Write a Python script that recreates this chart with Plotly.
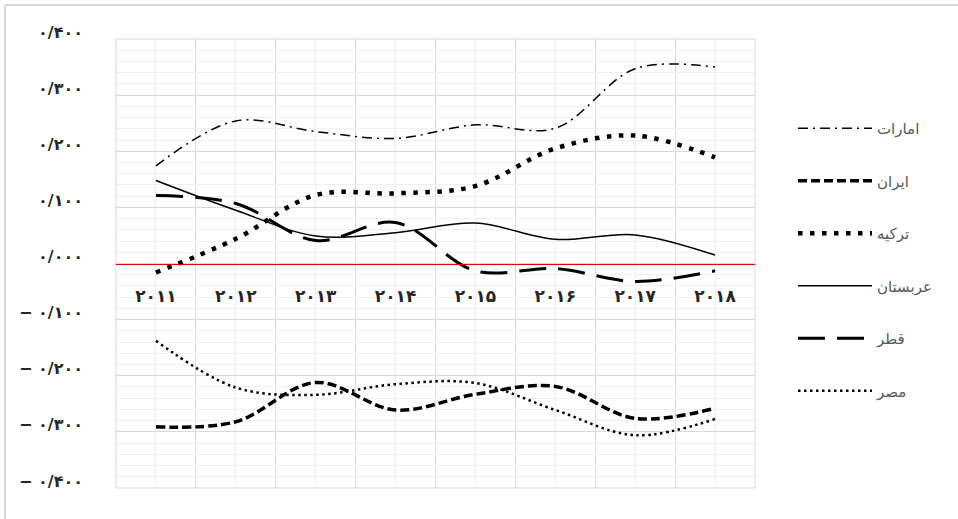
import plotly.graph_objects as go

# ---- data ----
years = ['۲۰۱۱', '۲۰۱۲', '۲۰۱۳', '۲۰۱۴', '۲۰۱۵', '۲۰۱۶', '۲۰۱۷', '۲۰۱۸']
emirates = [0.174, 0.254, 0.235, 0.223, 0.247, 0.241, 0.347, 0.350]
iran = [-0.291, -0.282, -0.212, -0.261, -0.233, -0.219, -0.276, -0.258]
turkey = [-0.016, 0.044, 0.122, 0.125, 0.138, 0.205, 0.228, 0.189]
saudi = [0.148, 0.095, 0.049, 0.055, 0.072, 0.043, 0.051, 0.015]
qatar = [0.121, 0.107, 0.041, 0.073, -0.013, -0.009, -0.032, -0.013]
egypt = [-0.1375, -0.221, -0.234, -0.215, -0.213, -0.261, -0.306, -0.277]

y_tick_values = [0.4, 0.3, 0.2, 0.1, 0.0, -0.1, -0.2, -0.3, -0.4]
y_tick_labels = ['۰/۴۰۰', '۰/۳۰۰', '۰/۲۰۰', '۰/۱۰۰', '۰/۰۰۰',
                 '− ۰/۱۰۰', '− ۰/۲۰۰', '− ۰/۳۰۰', '− ۰/۴۰۰']

series = [
    ('امارات', emirates, dict(width=1.5, dash='10px,5px,2px,5px')),
    ('ایران', iran, dict(width=3.5, dash='9px,4px')),
    ('ترکیه', turkey, dict(width=4.5, dash='4.5px,7.5px')),
    ('عربستان', saudi, dict(width=1.5, dash='solid')),
    ('قطر', qatar, dict(width=3, dash='27px,12px')),
    ('مصر', egypt, dict(width=2.5, dash='2.5px,3.5px')),
]

xpos = list(range(len(years)))

fig = go.Figure()
for i, (name, vals, ln) in enumerate(series):
    fig.add_trace(go.Scatter(
        x=xpos, y=vals, name=name, mode='lines',
        line=dict(color='black', shape='spline', smoothing=1.0, **ln),
        legendgroup=f'g{i}',
    ))

FONT = 'DejaVu Sans'
W, H = 958, 519
L, R, T, B = 116, 203, 39, 31
pw, ph = W - L - R, H - T - B

def px_x(p):
    return (p - L) / pw

def px_y(p):
    return 1 - (p - T) / ph

fig.update_layout(
    width=W, height=H,
    margin=dict(l=L, r=R, t=T, b=B, autoexpand=False),
    paper_bgcolor='white', plot_bgcolor='white',
    font=dict(family=FONT, color='#404040'),
    showlegend=True,
    legend=dict(
        x=px_x(793), y=px_y(112), xanchor='left', yanchor='top',
        font=dict(family=FONT, size=15, color='#595959'),
        itemwidth=74, tracegroupgap=30, bgcolor='rgba(0,0,0,0)',
    ),
    xaxis=dict(
        range=[-0.5, 7.5],
        tickmode='array', tickvals=xpos, ticktext=years,
        showgrid=True, gridcolor='#f0f0f0', gridwidth=1,
        minor=dict(tickmode='linear', tick0=-0.5, dtick=1, showgrid=True,
                   gridcolor='#d9d9d9', gridwidth=1),
        zeroline=False,
        anchor='free', position=0.5,
        showline=True, linecolor='#e00000', linewidth=1,
        ticks='', ticklabelstandoff=17,
        tickfont=dict(family=FONT, size=17, color='#262626', weight='bold'),
    ),
    yaxis=dict(
        range=[-0.4, 0.4], domain=[0, 1],
        tickmode='array', tickvals=y_tick_values, ticktext=y_tick_labels,
        showgrid=True, gridcolor='#d9d9d9', gridwidth=1,
        minor=dict(tickmode='linear', tick0=0, dtick=0.02, showgrid=True,
                   gridcolor='#f0f0f0', gridwidth=1),
        zeroline=False, showline=False,
        ticks='', ticklabelstandoff=32, ticklabelshift=-7,
        tickfont=dict(family=FONT, size=16, color='#262626', weight='bold'),
    ),
    shapes=[
        dict(type='rect', xref='x domain', yref='y domain', x0=0, x1=1, y0=0, y1=1,
             line=dict(color='#d9d9d9', width=1), layer='below'),
        dict(type='line', xref='paper', yref='paper',
             x0=px_x(5), x1=px_x(962), y0=px_y(5), y1=px_y(5),
             line=dict(color='#d9d9d9', width=2)),
        dict(type='line', xref='paper', yref='paper',
             x0=px_x(5), x1=px_x(5), y0=px_y(5), y1=px_y(522),
             line=dict(color='#d9d9d9', width=2)),
    ],
)

fig.write_html('out.html', config={'displayModeBar': False},
               post_script="document.body.style.margin='0';")
